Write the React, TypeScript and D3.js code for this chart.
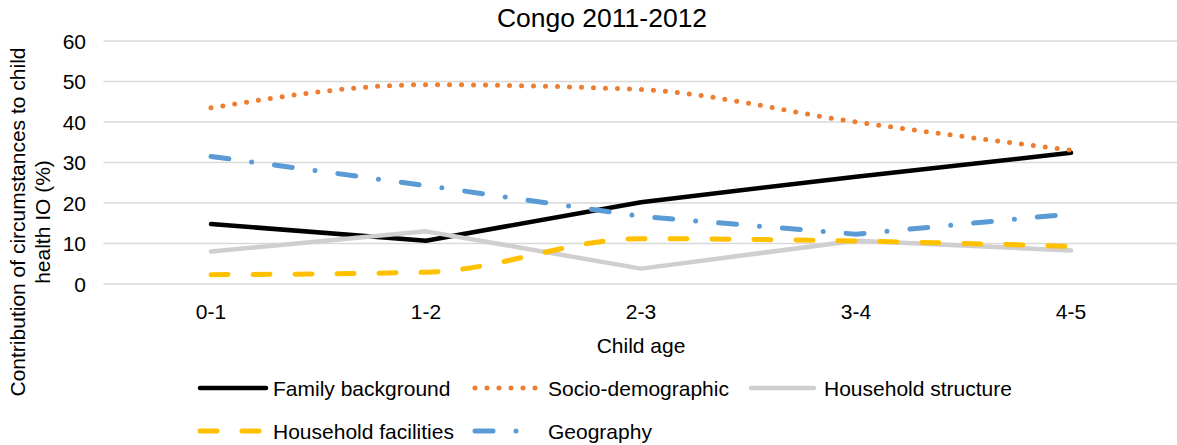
import React from "react";
import * as d3 from "d3";

const categories = ["0-1", "1-2", "2-3", "3-4", "4-5"];
const familyBackground = [14.8, 10.7, 20.2, 26.5, 32.4];
const socioDemographic = [43.5, 49.2, 48.0, 40.0, 33.0];
const householdStructure = [8.0, 13.0, 3.8, 10.7, 8.3];
const householdFacilities = [2.3, 2.9, 11.2, 10.6, 9.3];
const geography = [31.5, 24.3, 16.7, 12.3, 17.3];
const yTicks = [0, 10, 20, 30, 40, 50, 60];

const W = 1177;
const H = 445;
const FONT = "'Liberation Sans', Arial, sans-serif";
const FS = 21;

type S = { name: string; values: number[]; color: string; dash: string; width: number; smooth: boolean };

const series: S[] = [
  { name: "Family background", values: familyBackground, color: "#000000", dash: "", width: 4.5, smooth: false },
  { name: "Socio-demographic", values: socioDemographic, color: "#ED7D31", dash: "0,12", width: 5, smooth: true },
  { name: "Household structure", values: householdStructure, color: "#D0CECE", dash: "", width: 4.5, smooth: false },
  { name: "Household facilities", values: householdFacilities, color: "#FFC000", dash: "17,25", width: 5, smooth: true },
  { name: "Geography", values: geography, color: "#5B9BD5", dash: "18,23,0,23", width: 5, smooth: false },
];

export default function App() {
  const x = d3.scaleBand<string>().domain(categories).range([103.5, 1178.5]);
  const y = d3.scaleLinear().domain([0, 60]).range([284, 41]);
  const cx = (c: string) => (x(c) as number) + x.bandwidth() / 2;

  const legendItems = [
    { s: series[0], lx: 197, ly: 388 },
    { s: series[1], lx: 472, ly: 388 },
    { s: series[2], lx: 748, ly: 388 },
    { s: series[3], lx: 197, ly: 431 },
    { s: series[4], lx: 472, ly: 431 },
  ];

  return (
    <svg width={W} height={H} style={{ position: "absolute", left: 0, top: 0, background: "#fff" }} fontFamily={FONT}>
      <rect width={W} height={H} fill="#fff" />
      <text x={602} y={27} fontSize={26.5} textAnchor="middle" fill="#000">Congo 2011-2012</text>
      {yTicks.map((t) => (
        <g key={t}>
          <line x1={103.5} x2={W} y1={y(t)} y2={y(t)} stroke="#D9D9D9" strokeWidth={1.5} />
          <text x={86} y={y(t) + 7.5} fontSize={FS} textAnchor="end" fill="#000">{t}</text>
        </g>
      ))}
      {categories.map((c) => (
        <text key={c} x={cx(c)} y={319} fontSize={FS} textAnchor="middle" fill="#000">{c}</text>
      ))}
      <text x={641} y={353} fontSize={FS} textAnchor="middle" fill="#000">Child age</text>
      <g transform="translate(25,222) rotate(-90)">
        <text x={0} y={0} fontSize={FS} textAnchor="middle" fill="#000">Contribution of circumstances to child</text>
        <text x={0} y={25} fontSize={FS} textAnchor="middle" fill="#000">health IO (%)</text>
      </g>
      {series.map((s) => {
        const line = d3
          .line<number>()
          .x((_, i) => cx(categories[i]))
          .y((v) => y(v))
          .curve(s.smooth ? d3.curveMonotoneX : d3.curveLinear);
        return (
          <path
            key={s.name}
            d={line(s.values) || ""}
            fill="none"
            stroke={s.color}
            strokeWidth={s.width}
            strokeDasharray={s.dash || undefined}
            strokeLinecap="round"
            strokeLinejoin="round"
          />
        );
      })}
      {legendItems.map(({ s, lx, ly }) => (
        <g key={s.name}>
          <line
            x1={lx + 3}
            x2={lx + (s.name === "Family background" || s.name === "Household facilities" ? 69 : 66)}
            y1={ly}
            y2={ly}
            stroke={s.color}
            strokeWidth={s.width}
            strokeDasharray={s.dash || undefined}
            strokeLinecap="round"
          />
          <text x={lx + 76} y={ly + 7.5} fontSize={FS} fill="#000">{s.name}</text>
        </g>
      ))}
    </svg>
  );
}
